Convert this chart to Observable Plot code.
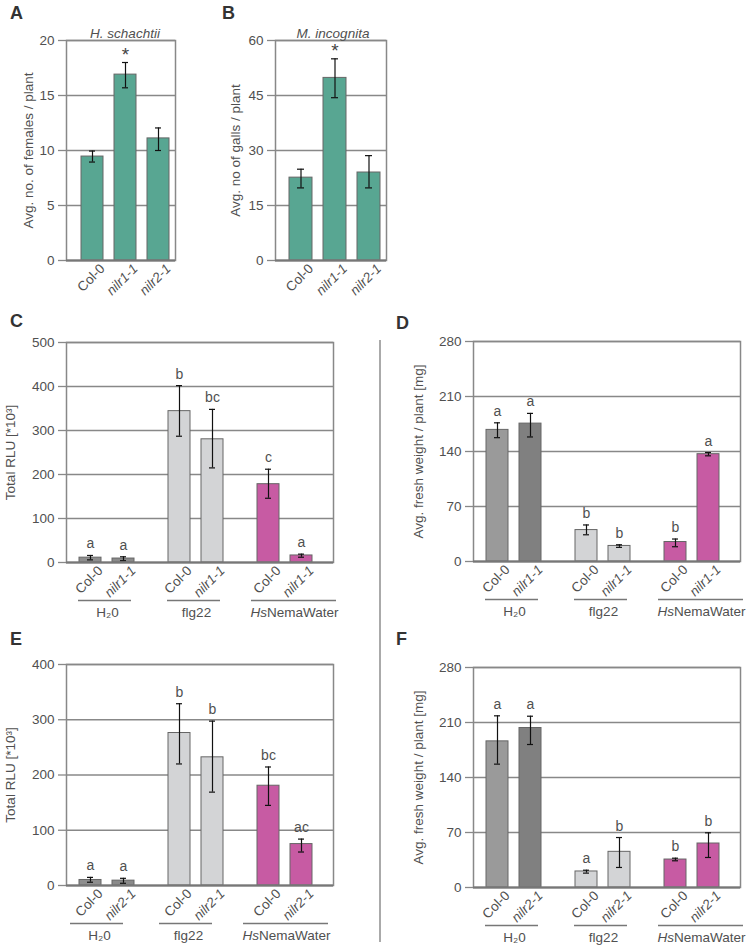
<!DOCTYPE html>
<html><head><meta charset="utf-8">
<script src="https://cdn.jsdelivr.net/npm/d3@7"></script>
<script src="https://cdn.jsdelivr.net/npm/@observablehq/plot@0.6"></script>
<style>
body{margin:0;background:#fff;font-family:"Liberation Sans",Arial,sans-serif;}
#root{position:relative;width:755px;height:946px;overflow:hidden;background:#fff;}
.panel{position:absolute;}
.panel svg{overflow:visible;}
.lbl{position:absolute;font-weight:bold;font-size:18px;color:#333;line-height:1;}
.divider{position:absolute;left:379px;top:340px;width:2px;height:602px;background:#aaa;}
</style></head><body><div id="root"></div>
<script>
// ---------- data ----------
const genotypesAB = ["Col-0", "nilr1-1", "nilr2-1"];
const femalesMean = [9.45, 16.9, 11.1];
const femalesLow  = [8.95, 15.7, 10.0];
const femalesHigh = [9.95, 18.0, 12.05];
const femalesSig  = ["", "*", ""];
const gallsMean = [22.6, 49.8, 24.0];
const gallsLow  = [19.8, 44.4, 19.8];
const gallsHigh = [24.9, 55.0, 28.6];
const gallsSig  = ["", "*", ""];
const ticksA = [0, 5, 10, 15, 20];
const ticksB = [0, 15, 30, 45, 60];

const treatments = ["H₂0", "flg22", "HsNemaWater"];
const genotypesCD = ["Col-0", "nilr1-1"];
const genotypesEF = ["Col-0", "nilr2-1"];

const rluC     = [11, 9, 344, 280, 178, 16];
const rluCLow  = [6, 4, 287, 215, 146, 12];
const rluCHigh = [16, 13, 402, 348, 212, 19];
const lettersC = ["a", "a", "b", "bc", "c", "a"];
const ticksC = [0, 100, 200, 300, 400, 500];

const weightD     = [167.5, 175.5, 40, 19.8, 24.8, 136.6];
const weightDLow  = [157.6, 158.5, 34, 18, 18.8, 134.5];
const weightDHigh = [176.5, 188.5, 46.5, 21.3, 28.6, 138.7];
const lettersD = ["a", "a", "b", "b", "b", "a"];
const ticksD = [0, 70, 140, 210, 280];

const rluE     = [10, 8.8, 276, 232, 180.6, 75];
const rluELow  = [5.9, 4, 220, 169, 145, 60.6];
const rluEHigh = [14.7, 13, 329, 297.5, 214.5, 84];
const lettersE = ["a", "a", "b", "b", "bc", "ac"];
const ticksE = [0, 100, 200, 300, 400];

const weightF     = [186, 203, 20.4, 45.4, 35.6, 56];
const weightFLow  = [157, 182, 18.3, 25.5, 34, 38.2];
const weightFHigh = [218.5, 218, 22, 63.6, 37.3, 69.6];
const lettersF = ["a", "a", "a", "b", "b", "b"];
const ticksF = [0, 70, 140, 210, 280];

// ---------- styles ----------
const TEAL = "#58a692";
const fillsCE = ["#8e8e8e", "#8a8a8a", "#d3d4d6", "#d3d4d6", "#c75ba3", "#c75ba3"];
const fillsDF = ["#9a9a9a", "#808080", "#d3d4d6", "#d3d4d6", "#c75ba3", "#c75ba3"];
const FONT = "Liberation Sans, Arial, Helvetica, sans-serif";
const TXT = "#505050";
const FS = 13.5;

function postProcess(svg) {
  svg.querySelectorAll("text").forEach(t => {
    const s = t.textContent;
    if (/^nilr/.test(s)) t.setAttribute("font-style", "italic");
    if (s === "HsNemaWater") {
      const holder = t.querySelector("tspan") || t;
      holder.textContent = "";
      const ns = "http://www.w3.org/2000/svg";
      const a = document.createElementNS(ns, "tspan");
      a.setAttribute("font-style", "italic"); a.textContent = "Hs";
      const b = document.createElementNS(ns, "tspan");
      b.textContent = "NemaWater";
      holder.appendChild(a); holder.appendChild(b);
    }
  });
  return svg;
}

function place(el, left, top) {
  const d = document.createElement("div");
  d.className = "panel"; d.style.left = left + "px"; d.style.top = top + "px";
  d.appendChild(el);
  document.getElementById("root").appendChild(d);
}
function letter(txt, left, top) {
  const d = document.createElement("div");
  d.className = "lbl"; d.textContent = txt;
  d.style.left = left + "px"; d.style.top = top + "px";
  document.getElementById("root").appendChild(d);
}

function simplePanel(o) {
  const data = o.genos.map((g, i) => ({geno: g, mean: o.mean[i], low: o.low[i], high: o.high[i], sig: o.sig[i]}));
  const ymax = o.ticks[o.ticks.length - 1];
  return postProcess(Plot.plot({
    width: o.width, height: o.height,
    marginLeft: o.ml, marginRight: o.mr, marginTop: o.mt, marginBottom: o.mb,
    style: {fontFamily: FONT, fontSize: "13px", color: TXT, background: "transparent"},
    x: {domain: o.genos, paddingInner: 0.324, paddingOuter: o.po, align: o.align, label: null},
    y: {domain: [0, ymax], label: null},
    marks: [
      Plot.gridY(o.ticks, {stroke: "#888", strokeOpacity: 1, strokeWidth: 1.3}),
      Plot.barY(data, {x: "geno", y: "mean", fill: TEAL, stroke: "#666", strokeWidth: 1}),
      Plot.ruleX(data, {x: "geno", y1: "low", y2: "high", stroke: "#111", strokeWidth: 1.2}),
      Plot.tickY(data, {x: "geno", y: "low", stroke: "#111", strokeWidth: 1.2, insetLeft: 8, insetRight: 8}),
      Plot.tickY(data, {x: "geno", y: "high", stroke: "#111", strokeWidth: 1.2, insetLeft: 8, insetRight: 8}),
      Plot.text(data, {x: "geno", y: "high", text: "sig", dy: -2, fontSize: 19, fontFamily: FONT, fill: "#444", lineAnchor: "bottom"}),
      Plot.frame({stroke: "#888", strokeWidth: 1.5}),
      Plot.ruleY([0], {stroke: "#777", strokeWidth: 2}),
      Plot.axisY({ticks: o.ticks, tickSize: 8, stroke: "#888", strokeWidth: 1.3, tickPadding: 4, fill: TXT,
        fontSize: FS, fontFamily: FONT,
        label: o.ylabel, labelAnchor: "center", labelOffset: o.lo, labelArrow: "none"}),
      Plot.axisX({tickSize: 0, tickRotate: -45, tickPadding: 6, dx: 10, fill: TXT, fontSize: FS, fontFamily: FONT}),
      Plot.text([o.title], {frameAnchor: "top", dy: -3, dx: o.tdx, lineAnchor: "bottom", fontStyle: "italic",
        fontSize: FS, fontFamily: FONT, fill: TXT})
    ]
  }));
}

function groupedPanel(o) {
  const n = o.genos.length;
  const data = treatments.flatMap((t, ti) => o.genos.map((g, gi) => {
    const i = ti * n + gi;
    return {group: t, geno: g, mean: o.mean[i], low: o.low[i], high: o.high[i], letter: o.letters[i], fill: o.fills[i]};
  }));
  const ymax = o.ticks[o.ticks.length - 1];
  const wide = treatments[2];
  const narrowGroups = treatments.filter(t => t !== wide);
  return postProcess(Plot.plot({
    width: o.width, height: o.height,
    marginLeft: o.ml, marginRight: o.mr, marginTop: o.mt, marginBottom: o.mb,
    style: {fontFamily: FONT, fontSize: "13px", color: TXT, background: "transparent"},
    fx: {domain: treatments, paddingInner: 0, paddingOuter: 0.05, align: 0, axis: null, label: null},
    x: {domain: o.genos, paddingInner: 0.324, paddingOuter: 0.476, align: 0.40, label: null},
    y: {domain: [0, ymax], label: null},
    color: {type: "identity"},
    marks: [
      Plot.gridY(o.ticks, {stroke: "#888", strokeOpacity: 1, strokeWidth: 1.3}),
      Plot.barY(data, {fx: "group", x: "geno", y: "mean", fill: "fill", stroke: "#666", strokeWidth: 1}),
      Plot.ruleX(data, {fx: "group", x: "geno", y1: "low", y2: "high", stroke: "#111", strokeWidth: 1.2}),
      Plot.tickY(data, {fx: "group", x: "geno", y: "low", stroke: "#111", strokeWidth: 1.2, insetLeft: 8, insetRight: 8}),
      Plot.tickY(data, {fx: "group", x: "geno", y: "high", stroke: "#111", strokeWidth: 1.2, insetLeft: 8, insetRight: 8}),
      Plot.text(data, {fx: "group", x: "geno", y: "high", text: "letter", dy: -7, lineAnchor: "bottom",
        fontSize: 14, fontFamily: FONT, fill: TXT}),
      Plot.frame({facet: "super", stroke: "#888", strokeWidth: 1.5}),
      Plot.ruleY([0], {stroke: "#777", strokeWidth: 2}),
      Plot.axisY({ticks: o.ticks, tickSize: 8, stroke: "#888", strokeWidth: 1.3, tickPadding: 4, fill: TXT,
        fontSize: FS, fontFamily: FONT,
        label: o.ylabel, labelAnchor: "center", labelOffset: o.lo, labelArrow: "none"}),
      Plot.axisX({tickSize: 0, tickRotate: -45, tickPadding: 6, dx: 10, fill: TXT, fontSize: FS, fontFamily: FONT}),
      // group underlines
      Plot.ruleY(narrowGroups, {fx: d => d, x1: () => o.genos[0], x2: () => o.genos[1], y: () => 0,
        dy: 38, dx: o.shift, insetLeft: -1, insetRight: 3, stroke: "#777", strokeWidth: 1.3}),
      Plot.ruleY([wide], {fx: d => d, x1: () => o.genos[0], x2: () => o.genos[1], y: () => 0,
        dy: 38, dx: o.shift, insetLeft: -6, insetRight: -24, stroke: "#777", strokeWidth: 1.3}),
      // group names
      Plot.text(narrowGroups, {fx: d => d, x: () => o.genos[0], y: () => 0, text: d => d,
        dx: 17 + o.shift, dy: 50, fontSize: FS, fontFamily: FONT, fill: TXT}),
      Plot.text([wide], {fx: d => d, x: () => o.genos[0], y: () => 0, text: d => d,
        dx: 26 + o.shift, dy: 50, fontSize: FS, fontFamily: FONT, fill: TXT})
    ]
  }));
}

// ---------- panels ----------
place(simplePanel({genos: genotypesAB, mean: femalesMean, low: femalesLow, high: femalesHigh, sig: femalesSig,
  ticks: ticksA, ylabel: "Avg. no. of females / plant", title: "H. schachtii",
  width: 195, height: 305, ml: 66, mr: 20, mt: 40, mb: 45, po: 0.265, align: 0.72, lo: 43, tdx: 4}), 0, 0);
place(simplePanel({genos: genotypesAB, mean: gallsMean, low: gallsLow, high: gallsHigh, sig: gallsSig,
  ticks: ticksB, ylabel: "Avg. no of galls / plant", title: "M. incognita",
  width: 195, height: 305, ml: 66, mr: 18, mt: 40, mb: 45, po: 0.294, align: 0.7, lo: 45, tdx: 2}), 209, 0);

place(groupedPanel({genos: genotypesCD, mean: rluC, low: rluCLow, high: rluCHigh, letters: lettersC, fills: fillsCE,
  ticks: ticksC, ylabel: "Total RLU [*10³]",
  width: 365, height: 330, ml: 66, mr: 22, mt: 42, mb: 68, lo: 61, shift: 0}), 0, 300);
place(groupedPanel({genos: genotypesCD, mean: weightD, low: weightDLow, high: weightDHigh, letters: lettersD, fills: fillsDF,
  ticks: ticksD, ylabel: "Avg. fresh weight / plant [mg]",
  width: 348, height: 330, ml: 66, mr: 5, mt: 41, mb: 69, lo: 60, shift: 0}), 407, 300);
place(groupedPanel({genos: genotypesEF, mean: rluE, low: rluELow, high: rluEHigh, letters: lettersE, fills: fillsCE,
  ticks: ticksE, ylabel: "Total RLU [*10³]",
  width: 365, height: 306, ml: 66, mr: 23, mt: 24, mb: 61, lo: 61, shift: -8}), 0, 640);
place(groupedPanel({genos: genotypesEF, mean: weightF, low: weightFLow, high: weightFHigh, letters: lettersF, fills: fillsDF,
  ticks: ticksF, ylabel: "Avg. fresh weight / plant [mg]",
  width: 348, height: 306, ml: 66, mr: 5, mt: 27, mb: 59, lo: 60, shift: 0}), 407, 640);

const div = document.createElement("div"); div.className = "divider";
document.getElementById("root").appendChild(div);
letter("A", 10, 4); letter("B", 222, 4);
letter("C", 10, 312); letter("D", 396, 314);
letter("E", 10, 630); letter("F", 396, 630);
</script></body></html>
